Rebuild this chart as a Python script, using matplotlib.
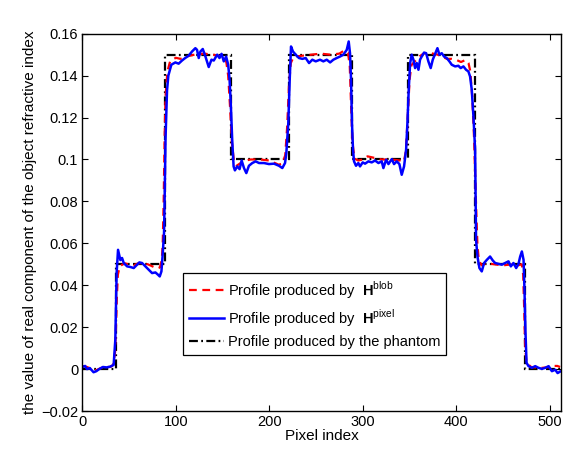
import numpy as np
import matplotlib
matplotlib.use("Agg")
import matplotlib.pyplot as plt

plt.rcParams['font.family'] = ['Liberation Sans', 'DejaVu Sans']
plt.rcParams['font.size'] = 10.5
plt.rcParams['mathtext.fontset'] = 'custom'
plt.rcParams['mathtext.rm'] = 'Liberation Sans'
plt.rcParams['mathtext.bf'] = 'Liberation Sans:bold'

# phantom: piecewise constant profile (edges in pixel index, levels)
phantom_edges = [0, 36.5, 88, 159.5, 221, 288.5, 348.5, 420.5, 473.5, 511]
phantom_levels = [0, 0.05, 0.15, 0.1, 0.15, 0.1, 0.15, 0.05, 0]

# profile from H^blob
blob_x = [0, 5, 10, 15, 20, 25, 30, 33, 35, 36, 37, 38, 40, 45, 50, 55, 60, 65, 70,
          75, 80, 83, 85, 86, 87, 88, 89, 91, 94, 100, 105, 110, 115, 120, 130, 140,
          145, 150, 154, 156, 158, 160, 162, 165, 170, 175, 180, 190, 200, 205, 210,
          214, 217, 219, 221, 223, 226, 235, 245, 255, 265, 275, 280, 284, 286, 287.5,
          289, 291, 295, 300, 305, 310, 315, 320, 330, 340, 344, 346, 348, 350, 352,
          356, 360, 365, 370, 375, 380, 385, 390, 395, 400, 405, 410, 413, 415, 417,
          419, 421, 422.5, 424, 427, 432, 440, 450, 460, 466, 470, 471.5, 472.5, 473.5,
          475, 480, 490, 500, 505, 508, 511]
blob_y = [0.0015, 0.001, 0.0, -0.0005, 0.0005, 0.001, 0.001, 0.002, 0.008, 0.02, 0.035,
          0.045, 0.049, 0.0505, 0.05, 0.0495, 0.0505, 0.0505, 0.05, 0.049, 0.048, 0.0485,
          0.052, 0.06, 0.08, 0.11, 0.13, 0.142, 0.147, 0.1485, 0.148, 0.149, 0.1495, 0.15,
          0.1505, 0.15, 0.1495, 0.149, 0.1465, 0.14, 0.125, 0.108, 0.1, 0.097, 0.0985,
          0.0995, 0.1, 0.1, 0.0995, 0.0985, 0.0975, 0.098, 0.102, 0.115, 0.135, 0.146,
          0.149, 0.1495, 0.15, 0.1505, 0.15, 0.1505, 0.152, 0.151, 0.145, 0.125, 0.108,
          0.1005, 0.0995, 0.1, 0.1015, 0.101, 0.1005, 0.1, 0.1, 0.0995, 0.099, 0.104,
          0.12, 0.138, 0.145, 0.147, 0.149, 0.1505, 0.151, 0.1505, 0.15, 0.149, 0.148,
          0.148, 0.1475, 0.1465, 0.1475, 0.146, 0.142, 0.13, 0.11, 0.08, 0.06, 0.052,
          0.0495, 0.0505, 0.05, 0.0495, 0.05, 0.0495, 0.05, 0.045, 0.03, 0.012, 0.003,
          0.001, 0.0005, 0.001, 0.0015, 0.0015, 0.001]

# profile from H^pixel
pixel_x = [0, 3, 5, 8, 12, 15, 18, 22, 26, 30, 33.5, 35.3, 36.7, 38.2, 40.7, 42.5, 44.3,
           47.9, 51.4, 55, 58.6, 61, 63.9, 67.5, 71, 74.6, 78.2, 81, 82.8, 84.6, 86,
           87.4, 88, 89, 90.6, 92, 95.2, 99.5, 103, 106.6, 110, 113.7, 117.3, 120.9,
           122.7, 124.5, 126.3, 128.8, 131.7, 135.2, 138.1, 140.6, 144.2, 146.7, 148.9,
           151.3, 153.8, 156, 157.5, 158.9, 160.3, 161.8, 163.2, 165.7, 168.2, 170.4,
           172.9, 175.4, 178.2, 181.8, 185.4, 189, 194.3, 199.6, 205, 210.3, 213.9,
           216.8, 218.2, 220.3, 221.8, 223.2, 225.3, 228.2, 231.7, 235.3, 238.9, 242.5,
           246, 249.6, 254.2, 257.8, 261.4, 265, 268.5, 272.1, 275.6, 279.2, 282.8,
           284.9, 286.3, 287.4, 288.4, 289.5, 290.6, 292.7, 295.2, 297, 299.9, 302.4,
           306, 309.5, 313.1, 316.7, 320.2, 322, 324.9, 327.4, 331, 333.4, 336.3, 339.1,
           341.6, 344.1, 346.3, 347.7, 349.1, 350.6, 352.3, 354.1, 355.9, 357.7, 359.5,
           361.2, 363, 365.5, 367.7, 370.1, 372.6, 374.8, 377.3, 379.8, 381.9, 384.4,
           386.9, 389.7, 392.6, 395.1, 398.7, 402.2, 404.7, 407.6, 410.4, 412.9, 414.7,
           416.5, 418.3, 420.1, 421.1, 422.6, 424.7, 427.2, 429.7, 432.6, 436.1, 439,
           441.5, 445.1, 448.6, 452.2, 455.8, 458.3, 461.1, 464, 466.5, 468.3, 470.1,
           471.9, 472.9, 474, 475.1, 477.2, 480.8, 484.4, 487.9, 491.5, 495.1, 498.7,
           502.2, 505.8, 508.3, 511]
pixel_y = [0.001, 0.0015, 0.0, 0.0005, -0.0015, -0.001, 0.0, 0.001, 0.0008, 0.0012,
           0.002, 0.014, 0.0458, 0.0569, 0.052, 0.053, 0.0506, 0.049, 0.0487, 0.0482,
           0.0498, 0.0509, 0.0506, 0.049, 0.0474, 0.0458, 0.0461, 0.045, 0.0442, 0.0466,
           0.055, 0.065, 0.08, 0.11, 0.133, 0.14, 0.1452, 0.1463, 0.1457, 0.1472, 0.1484,
           0.1495, 0.1515, 0.1531, 0.1523, 0.1484, 0.1515, 0.1527, 0.1491, 0.1441,
           0.1476, 0.1472, 0.15, 0.1484, 0.1504, 0.1468, 0.1491, 0.1452, 0.138, 0.1253,
           0.1094, 0.0967, 0.0948, 0.0967, 0.0954, 0.0995, 0.0959, 0.0935, 0.097, 0.0983,
           0.0991, 0.0983, 0.0983, 0.0978, 0.098, 0.097, 0.0959, 0.0983, 0.1031, 0.1174,
           0.138, 0.1539, 0.1515, 0.15, 0.1484, 0.148, 0.1484, 0.146, 0.1476, 0.1468,
           0.1476, 0.1468, 0.1476, 0.1463, 0.1476, 0.1484, 0.1491, 0.15, 0.1523, 0.1563,
           0.1507, 0.138, 0.1174, 0.1047, 0.0991, 0.097, 0.0983, 0.0967, 0.0986, 0.098,
           0.0991, 0.0986, 0.0995, 0.0983, 0.0991, 0.0959, 0.0999, 0.0978, 0.1002, 0.0978,
           0.0991, 0.0978, 0.0927, 0.0967, 0.1047, 0.1174, 0.1333, 0.146, 0.15, 0.1476,
           0.1436, 0.146, 0.1428, 0.1476, 0.1491, 0.151, 0.1507, 0.1468, 0.1436, 0.1476,
           0.1504, 0.1531, 0.15, 0.1507, 0.1491, 0.1484, 0.1468, 0.1452, 0.1444, 0.1447,
           0.1436, 0.1444, 0.1428, 0.142, 0.1396, 0.1333, 0.1205, 0.1047, 0.0617, 0.0537,
           0.0482, 0.0466, 0.0506, 0.0521, 0.0537, 0.0518, 0.0506, 0.0502, 0.0498, 0.0506,
           0.0514, 0.049, 0.0506, 0.0482, 0.0502, 0.0537, 0.0561, 0.0521, 0.0378, 0.0172,
           0.003, 0.0014, 0.0006, 0.0014, 0.0006, 0.0001, 0.0006, 0.0014, -0.001, -0.0003,
           -0.0019, -0.0012]

labels = [r'Profile produced by  $\mathbf{H}^{\mathrm{blob}}$',
          r'Profile produced by  $\mathbf{H}^{\mathrm{pixel}}$',
          'Profile produced by the phantom']

fig = plt.figure(figsize=(5.65, 4.53), dpi=100)
ax = fig.add_axes([0.1457, 0.0927, 0.8473, 0.8329])

ax.plot(blob_x, blob_y, color='red', lw=1.6, linestyle=(0, (3.5, 2.5)), label=labels[0])
ax.plot(pixel_x, pixel_y, color='blue', lw=1.8, label=labels[1])
ax.stairs(phantom_levels, phantom_edges, baseline=None, color='black', lw=1.6,
          linestyle=(0, (4, 1.5, 0.8, 1.5)), label=labels[2])

ax.set_xlim(0, 512)
ax.set_ylim(-0.02, 0.16)
ax.set_xticks([0, 100, 200, 300, 400, 500])
ax.set_yticks([-0.02, 0, 0.02, 0.04, 0.06, 0.08, 0.1, 0.12, 0.14, 0.16])
ax.set_yticklabels(['\u22120.02', '0', '0.02', '0.04', '0.06', '0.08', '0.1', '0.12',
                    '0.14', '0.16'])
ax.tick_params(direction='in', top=True, right=True, length=4, width=0.8, labelsize=10.5, pad=3)
for s in ax.spines.values():
    s.set_linewidth(1.0)

ax.set_xlabel('Pixel index', fontsize=11, labelpad=0)
ax.set_ylabel('the value of real component of the object refractive index', fontsize=11,
              labelpad=3)

leg = ax.legend(loc='lower left', bbox_to_anchor=(0.21, 0.148), fontsize=10.5, fancybox=False,
                edgecolor='black', framealpha=1, handlelength=2.4, handletextpad=0.3,
                labelspacing=0.45, borderpad=0.4, borderaxespad=0)
leg.get_frame().set_linewidth(0.9)

fig.savefig('out.png', dpi=100)
